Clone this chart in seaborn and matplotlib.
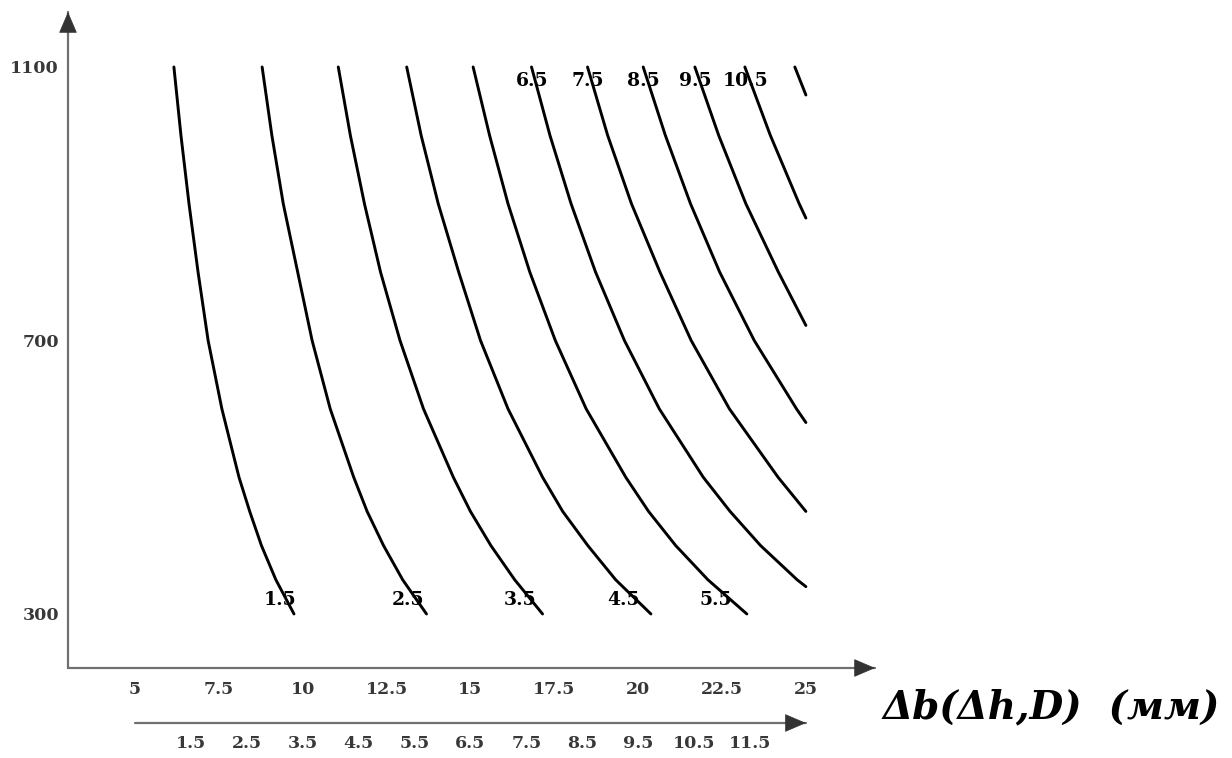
# Contour-style chart: Δb(Δh, D) curves, recreated with seaborn/matplotlib
import numpy as np
import pandas as pd
import matplotlib
matplotlib.use("Agg")
import matplotlib.pyplot as plt
import seaborn as sns

# ==============================
# DATA
# ==============================
dh_levels = [1.5, 2.5, 3.5, 4.5, 5.5, 6.5, 7.5, 8.5, 9.5, 10.5, 11.5]
D_grid = [1100, 1000, 900, 800, 700, 600, 500, 450, 400, 350, 300]
nan = np.nan

db_15 = [6.16, 6.37, 6.61, 6.88, 7.18, 7.59, 8.10, 8.42, 8.77, 9.20, 9.74]
db_25 = [8.79, 9.08, 9.42, 9.85, 10.28, 10.82, 11.52, 11.92, 12.41, 12.98, 13.69]
db_35 = [11.06, 11.42, 11.84, 12.32, 12.90, 13.60, 14.49, 15.00, 15.61, 16.32, 17.15]
db_45 = [13.10, 13.53, 14.04, 14.65, 15.30, 16.12, 17.15, 17.75, 18.50, 19.33, 20.38]
db_55 = [15.08, 15.57, 16.12, 16.77, 17.53, 18.45, 19.63, 20.31, 21.12, 22.08, 23.24]
db_65 = [16.82, 17.37, 18.00, 18.73, 19.59, 20.63, 21.94, 22.74, 23.65, 24.74, nan]
db_75 = [18.49, 19.09, 19.80, 20.65, 21.58, 22.72, 24.17, nan, nan, nan, nan]
db_85 = [20.15, 20.81, 21.56, 22.43, 23.46, 24.72, nan, nan, nan, nan, nan]
db_95 = [21.69, 22.40, 23.21, 24.18, nan, nan, nan, nan, nan, nan, nan]
db_105 = [23.18, 23.94, 24.80, nan, nan, nan, nan, nan, nan, nan, nan]
db_115 = [24.67, nan, nan, nan, nan, nan, nan, nan, nan, nan, nan]

# where each curve leaves the plot at its right edge (Δb = 25)
db_edge = 25.0
exit_D = [nan, nan, nan, nan, nan, 340, 450, 580, 722, 879, 1059]

x_ticks = [5, 7.5, 10, 12.5, 15, 17.5, 20, 22.5, 25]
y_ticks = [300, 700, 1100]
dh_ticks = [0.5, 1.5, 2.5, 3.5, 4.5, 5.5, 6.5, 7.5, 8.5, 9.5, 10.5, 11.5]
top_labelled = [6.5, 7.5, 8.5, 9.5, 10.5]
bottom_labelled = [1.5, 2.5, 3.5, 4.5, 5.5]

all_db = [db_15, db_25, db_35, db_45, db_55, db_65, db_75, db_85, db_95, db_105, db_115]

rows = []
for dh, dbs, ex in zip(dh_levels, all_db, exit_D):
    for D, db in zip(D_grid, dbs):
        if not np.isnan(db):
            rows.append((dh, D, db))
    if not np.isnan(ex):
        rows.append((dh, ex, db_edge))
df = pd.DataFrame(rows, columns=["dh", "D", "db"])

# ==============================
# FIGURE
# ==============================
sns.set_style("white")
plt.rcParams["font.family"] = ["DejaVu Serif"]

W, H = 1232, 758
fig = plt.figure(figsize=(W / 100, H / 100), dpi=100)
ax = fig.add_axes([68 / W, 1 - 668 / H, (875 - 68) / W, (668 - 12) / H])

sns.lineplot(data=df, x="db", y="D", units="dh", estimator=None, sort=False,
             color="black", lw=2.1, ax=ax, legend=False)

ax.set_xlim(3.003, 27.06)
ax.set_ylim(221, 1180.4)
for s in ax.spines.values():
    s.set_visible(False)
ax.set_xlabel("")
ax.set_ylabel("")

axis_col = "#707070"
tick_col = "#383838"
ax.set_xticks(x_ticks)
ax.set_xticklabels([f"{t:g}" for t in x_ticks])
ax.set_yticks(y_ticks)
ax.set_yticklabels([str(t) for t in y_ticks])
ax.tick_params(axis="both", direction="inout", length=9, width=1.3, color=axis_col,
               labelsize=12.5, labelcolor=tick_col)
ax.tick_params(axis="x", pad=5)
ax.tick_params(axis="y", pad=2)
for lab in ax.get_xticklabels() + ax.get_yticklabels():
    lab.set_fontweight("bold")

# axis lines with arrow heads
ax.plot([0, 1], [0, 0], transform=ax.transAxes, color=axis_col, lw=1.6, clip_on=False)
ax.plot([0, 0], [0, 1], transform=ax.transAxes, color=axis_col, lw=1.6, clip_on=False)
head = dict(arrowstyle="-|>,head_length=0.7,head_width=0.3", color="#333333",
            lw=0.5, mutation_scale=20, shrinkA=0, shrinkB=0)
ax.annotate("", xy=(1, 0), xytext=(0.985, 0), xycoords="axes fraction", arrowprops=head)
ax.annotate("", xy=(0, 1), xytext=(0, 0.98), xycoords="axes fraction", arrowprops=head)

# contour labels
for dh, dbs in zip(dh_levels, all_db):
    if dh in top_labelled:
        ax.annotate(f"{dh:g}", xy=(dbs[0], D_grid[0]), xytext=(0.5, -14),
                    textcoords="offset pixels", ha="center", va="center",
                    fontsize=13.5, fontweight="bold", color="black")
    if dh in bottom_labelled:
        i = bottom_labelled.index(dh)
        ax.annotate(f"{dh:g}", xy=(dbs[-1], D_grid[-1]), xytext=(-14 - 4.4 * i, 13.5),
                    textcoords="offset pixels", ha="center", va="center",
                    fontsize=13.5, fontweight="bold", color="black")

# secondary Δh scale under the main axis
ax2 = fig.add_axes([68 / W, 1 - 723 / H, (875 - 68) / W, 0.0001])
ax2.set_xlim(0.5 + (3.003 - 5) * 0.6, 0.5 + (27.06 - 5) * 0.6)
ax2.set_ylim(0, 1)
for s in ax2.spines.values():
    s.set_visible(False)
ax2.set_yticks([])
ax2.set_xticks(dh_ticks)
ax2.set_xticklabels([""] + [f"{t:g}" for t in dh_ticks[1:]])
ax2.tick_params(axis="x", direction="inout", length=9, width=1.3, color=axis_col,
                labelsize=12.5, labelcolor=tick_col, pad=4)
for lab in ax2.get_xticklabels():
    lab.set_fontweight("bold")
ax2.plot([0.5, 12.5], [0, 0], color=axis_col, lw=1.6, clip_on=False)
ax2.annotate("", xy=(12.5, 0), xytext=(12.2, 0), xycoords="data", arrowprops=head)

fig.text(1051 / W, 1 - 707 / H, "Δb(Δh,D)  (мм)", ha="center", va="center",
         fontsize=28, fontstyle="italic", fontweight="bold", color="black")

fig.savefig("out.png", dpi=100, facecolor="white")
